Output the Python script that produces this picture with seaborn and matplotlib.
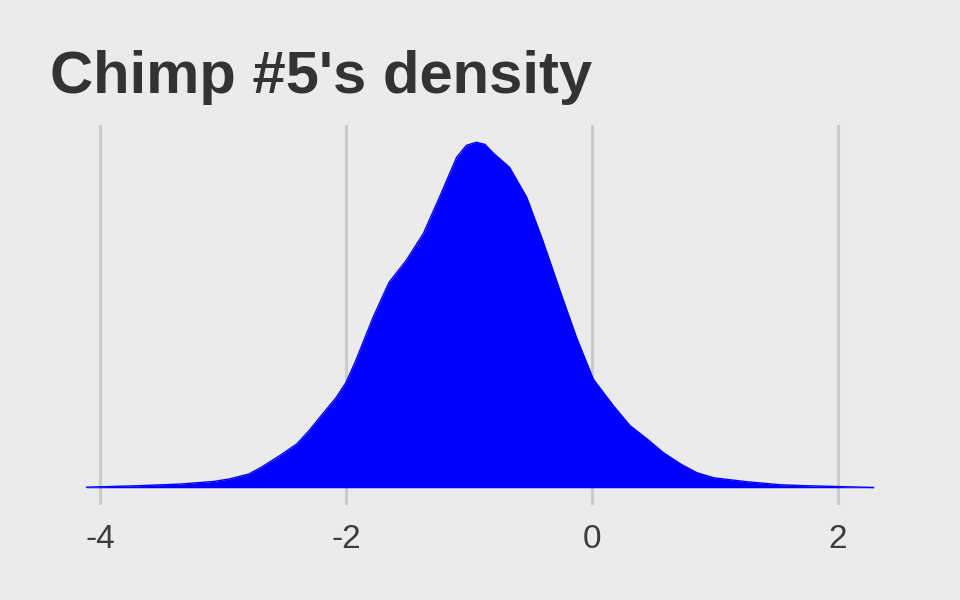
import matplotlib
matplotlib.use("Agg")
import matplotlib.pyplot as plt
import seaborn as sns
import pandas as pd

# Density curve
x_vals = [-4.11, -3.70, -3.35, -3.08, -2.95, -2.79, -2.68, -2.54, -2.40, -2.30,
          -2.19, -2.08, -2.00, -1.92, -1.78, -1.65, -1.51, -1.37, -1.24, -1.10,
          -1.02, -0.94, -0.87, -0.80, -0.67, -0.53, -0.40, -0.26, -0.125, 0.011,
          0.174, 0.31, 0.446, 0.581, 0.717, 0.853, 0.988, 1.26, 1.53, 1.75, 2.29]
density = [0.001, 0.0035, 0.0065, 0.011, 0.0154, 0.0242, 0.0372, 0.0566, 0.0773, 0.1009,
           0.1304, 0.1593, 0.1859, 0.2248, 0.3009, 0.3629, 0.4018, 0.4496, 0.5133, 0.5841,
           0.6053, 0.6107, 0.607, 0.5912, 0.5664, 0.5133, 0.4372, 0.3487, 0.2655, 0.1920,
           0.1451, 0.1097, 0.0867, 0.0620, 0.0425, 0.0266, 0.0177, 0.0106, 0.0053, 0.0035, 0.0005]
x_ticks = [-4, -2, 0, 2]
tick_labels = ["-4", "-2", "0", "2"]
title = "Chimp #5's density"

df = pd.DataFrame({"x": x_vals, "density": density})

bg = "#EBEBEB"
sns.set_theme(style="white", rc={"axes.facecolor": bg, "figure.facecolor": bg})
plt.rcParams["font.family"] = ["Liberation Sans", "DejaVu Sans"]

fig = plt.figure(figsize=(9.6, 6), dpi=100)
ax = fig.add_axes([0.049, 0.1583, 0.902, 0.6334])
ax.set_facecolor(bg)

for t in x_ticks:
    ax.axvline(t, color="#CBCBCB", lw=2.2, zorder=0)

ax.fill_between(df["x"], 0, df["density"], color="#0000FF", lw=0, zorder=2)
sns.lineplot(data=df, x="x", y="density", color="#0000FF", lw=1, ax=ax, zorder=3)

xr = max(x_vals) - min(x_vals)
ax.set_xlim(min(x_vals) - 0.05 * xr, max(x_vals) + 0.05 * xr)
ymax = max(density)
ax.set_ylim(-0.05 * ymax, ymax * 1.05)

ax.set_xticks(x_ticks)
ax.set_xticklabels(tick_labels)
ax.tick_params(axis="x", length=0, pad=14, labelsize=24, labelcolor="#3C3C3C")
ax.set_yticks([])
ax.set_xlabel("")
ax.set_ylabel("")
for s in ax.spines.values():
    s.set_visible(False)

fig.text(50 / 960, 1 - 93 / 600, title, fontsize=43, fontweight="bold",
         color="#333333", ha="left", va="baseline")

fig.savefig("out.png", dpi=100, facecolor=bg)
